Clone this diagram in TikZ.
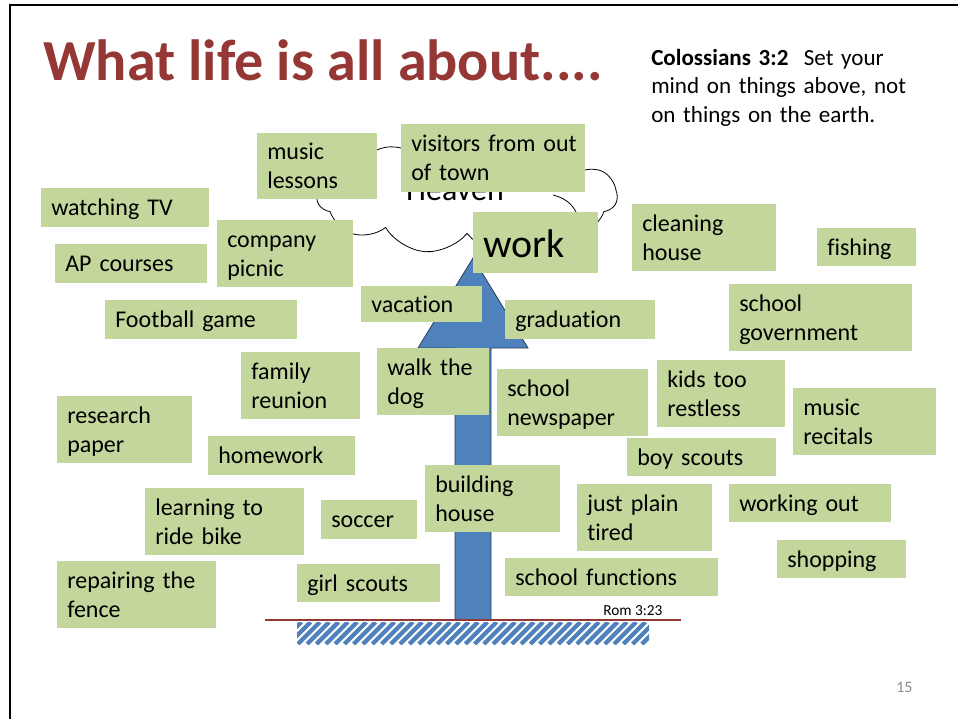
\documentclass[tikz,border=0pt]{standalone}
\usepackage{fontspec}
\setmainfont{Carlito}[Ligatures=NoCommon]
\usetikzlibrary{shapes.symbols}
\definecolor{boxgreen}{HTML}{C3D69B}
\definecolor{titlered}{HTML}{953735}
\definecolor{arrowblue}{HTML}{4F81BD}
\definecolor{arrowline}{HTML}{263E5C}
\definecolor{pagegray}{HTML}{8C8C8C}
\newcommand\boxfont{\fontsize{18}{21.75}\selectfont}
\newcommand\topstrut{\vrule height 16.9pt depth 0pt width 0pt}
\newcommand\botstrut{\vrule height 0pt depth 4.85pt width 0pt}
\begin{document}
\begin{tikzpicture}[x=0.75pt,y=-0.75pt,
  tbox/.style={fill=boxgreen, anchor=north west, inner xsep=7.5pt, inner ysep=0pt, align=left},
  box/.style={tbox, font=\boxfont, execute at begin node=\topstrut, execute at end node=\botstrut},
  plain/.style={inner sep=0pt, anchor=base west},
  hatchline/.style={arrowblue, line width=3.2pt}]
\fill[white] (0,0) rectangle (958,719);
\useasboundingbox (0,0) rectangle (958,719);
% frame
\draw[line width=1.5pt] (10,719) -- (10,5) -- (958,5);
% title and verse
\node[plain, font=\fontsize{43.6}{52}\selectfont\bfseries, text=titlered] (title) at (43,80) {What life is all about....};
\node[plain, text width=210pt, align=left, font=\fontsize{17.3}{21.4}\selectfont] (verse) at (651,65)
  {{\bfseries Colossians 3:2}\ \ Set your\\mind on things above, not\\on things on the earth.};
% cloud
\node[cloud, draw, fill=white, line width=0.6pt, cloud puffs=11, cloud puff arc=110, aspect=2.6,
  minimum width=225pt, minimum height=87pt, inner sep=0pt] (cloud) at (467,196) {};
\draw[line width=0.6pt] (553,195) .. controls (565,198) and (572,204) .. (576,212);
\node[inner sep=0pt, anchor=base, font=\fontsize{24}{29}\selectfont] (heaven) at (455,200) {Heaven};
% arrow
\draw[fill=arrowblue, draw=arrowline, line width=0.6pt]
  (455,620) -- (455,348) -- (418,348) -- (473,258) -- (528,348) -- (491,348) -- (491,620) -- cycle;
% hatch
\begin{scope}
\clip (297,622) rectangle (649,644);
\foreach \x in {270,279.3,...,660} \draw[hatchline] (\x,644) -- ++(22,-22);
\end{scope}
\coordinate (gl) at (265,620);
\coordinate (gr) at (681,620);
\draw[titlered, line width=1.6pt] (gl) -- (gr);
\node[plain, font=\fontsize{11.5}{14}\selectfont] (rom) at (603,615) {Rom 3:23};
\node[plain, font=\fontsize{12}{14}\selectfont, text=pagegray] (page) at (896,692) {15};
% boxes
\node[box, text width=75pt, minimum height=49.5pt] (music) at (257,133) {music\\lessons};
\node[box, text width=123pt, minimum height=51pt] (visitors) at (401,124) {visitors~from~out\\of town};
\node[box, text width=111pt, minimum height=29.25pt] (tv) at (41,188) {watching TV};
\node[box, text width=87pt, minimum height=50.25pt] (picnic) at (217,220) {company\\picnic};
\node[box, text width=99pt, minimum height=29.25pt] (ap) at (55,244) {AP courses};
\node[tbox, text width=78.75pt, text height=33.75pt, text depth=12pt, font=\fontsize{30}{36}\selectfont] (work) at (473,212) {work};
\node[box, text width=93pt, minimum height=50.25pt] (cleaning) at (632,204) {cleaning\\house};
\node[box, text width=59.25pt, minimum height=28.5pt] (fishing) at (817,228) {fishing};
\node[box, text width=129pt, minimum height=29.25pt] (football) at (105,300) {Football game};
\node[box, text width=75.75pt, minimum height=27pt] (vacation) at (361,286) {vacation};
\node[box, text width=97.5pt, minimum height=29.25pt] (graduation) at (505,300) {graduation};
\node[box, text width=122.25pt, minimum height=50.25pt] (gov) at (729,284) {school\\government};
\node[box, text width=74.25pt, minimum height=50.25pt] (reunion) at (241,352) {family\\reunion};
\node[box, text width=69pt, minimum height=50.25pt] (dog) at (377,348) {walk the\\dog};
\node[box, text width=98.25pt, minimum height=50.25pt] (newspaper) at (497,369) {school\\newspaper};
\node[box, text width=81pt, minimum height=50.25pt] (restless) at (657,360) {kids too\\restless};
\node[box, text width=92.25pt, minimum height=50.25pt] (recitals) at (793,388) {music\\recitals};
\node[box, text width=86.25pt, minimum height=50.25pt] (research) at (57,396) {research\\paper};
\node[box, text width=95.25pt, minimum height=29.25pt] (homework) at (208,436) {homework};
\node[box, text width=96.75pt, minimum height=28.5pt] (boyscouts) at (627,438) {boy scouts};
\node[box, text width=104.25pt, minimum height=50.25pt] (bike) at (145,488) {learning to\\ride bike};
\node[box, text width=57pt, minimum height=29.25pt] (soccer) at (321,500) {soccer};
\node[box, text width=86.25pt, minimum height=50.25pt] (building) at (425,465) {building\\house};
\node[box, text width=86.25pt, minimum height=50.25pt] (tired) at (577,484) {just plain\\tired};
\node[box, text width=106.5pt, minimum height=28.5pt] (workout) at (729,484) {working out};
\node[box, text width=81.75pt, minimum height=28.5pt] (shopping) at (777,540) {shopping};
\node[box, text width=104.25pt, minimum height=50.25pt] (fence) at (57,561) {repairing the\\fence};
\node[box, text width=92.25pt, minimum height=28.5pt] (girlscouts) at (297,564) {girl scouts};
\node[box, text width=144.75pt, minimum height=28.5pt] (functions) at (505,558) {school functions};
\end{tikzpicture}
\end{document}
